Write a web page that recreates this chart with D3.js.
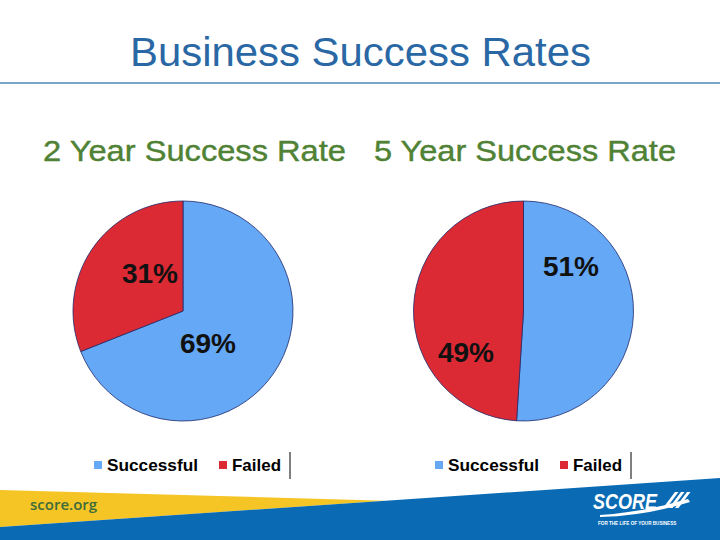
<!DOCTYPE html>
<html><head><meta charset="utf-8">
<script src="https://cdn.jsdelivr.net/npm/d3@7"></script>
<style>body{margin:0;background:#fff}svg{display:block}</style>
</head><body>
<svg id="c" width="720" height="540"></svg>
<script>
const title = "Business Success Rates";
const categories = ["Successful", "Failed"];
const chartTitles = ["2 Year Success Rate", "5 Year Success Rate"];
const twoYearValues = [69, 31];
const fiveYearValues = [51, 49];
const colors = ["#64a8f6", "#dc2a35"];

const svg = d3.select("#c");
const W = 720;
const F = "Liberation Sans, Arial, sans-serif";

// footer
svg.append("path").attr("d","M0,490 L386,500.7 L0,527 Z").attr("fill","#f5c526");
svg.append("path").attr("d","M0,527 L720,478 L720,540 L0,540 Z").attr("fill","#0a6bb4");
svg.append("text").attr("x",30).attr("y",510).text("score.org")
  .attr("font-family","Open Sans, sans-serif").attr("font-weight",600).attr("font-size",15).attr("fill","#3d6b3a");
svg.append("text").attr("x",593).attr("y",509).text("SCORE").attr("textLength",64).attr("lengthAdjust","spacingAndGlyphs")
  .attr("font-family",F).attr("font-weight",700).attr("font-style","italic").attr("font-size",22).attr("fill","#fff");
[0,1,2].forEach(i=>{
  svg.append("path").attr("d",`M${663+i*6},508 L${675+i*6},492 L${678.5+i*6},492 L${666.5+i*6},508 Z`).attr("fill","#fff");
});
svg.append("path").attr("d","M600,515 Q645,512 688,499 L690,502 Q645,516 600,517 Z").attr("fill","#fff");
svg.append("text").attr("x",598).attr("y",525).text("FOR THE LIFE OF YOUR BUSINESS")
  .attr("font-family",F).attr("font-weight",700).attr("font-size",4.6).attr("fill","#fff");

// title
svg.append("text").attr("x",130).attr("y",66).text(title).attr("textLength",461).attr("lengthAdjust","spacingAndGlyphs")
  .attr("font-family",F).attr("font-size",41).attr("fill","#2a68a5");
svg.append("line").attr("x1",0).attr("x2",720).attr("y1",83).attr("y2",83).attr("stroke","#7aa6c6").attr("stroke-width",2);

const pies = [
  {values: twoYearValues, cx: 183, title: chartTitles[0], tx: 43, tw: 303, legX: 94, sepX: 290,
   labelPos: [[208,343],[150,273]]},
  {values: fiveYearValues, cx: 523.5, title: chartTitles[1], tx: 374, tw: 302, legX: 435, sepX: 631,
   labelPos: [[571,266],[466,352]]}
];
const cy = 311, r = 110;
const pie = d3.pie().sort(null).value(d=>d);
const arc = d3.arc().innerRadius(0).outerRadius(r);

pies.forEach(p=>{
  svg.append("text").attr("x",p.tx).attr("y",161).text(p.title).attr("textLength",p.tw).attr("lengthAdjust","spacingAndGlyphs")
    .attr("font-family",F).attr("font-size",29).attr("stroke","#4f8234").attr("stroke-width",0.4).attr("fill","#4f8234");
  const g = svg.append("g").attr("transform",`translate(${p.cx},${cy})`);
  const arcs = pie(p.values);
  g.selectAll("path").data(arcs).join("path").attr("d",arc)
    .attr("fill",(d,i)=>colors[i]).attr("stroke","#1f2a6b").attr("stroke-width",0.8);
  arcs.forEach((a,i)=>{
    svg.append("text").attr("x",p.labelPos[i][0]).attr("y",p.labelPos[i][1]).attr("text-anchor","middle")
      .attr("dominant-baseline","central").text(p.values[i]+"%")
      .attr("font-family",F).attr("font-weight",700).attr("font-size",28).attr("fill","#111");
  });
  const lx = [p.legX, p.legX+125];
  const lw = [91, 49];
  categories.forEach((c,i)=>{
    svg.append("rect").attr("x",lx[i]).attr("y",461).attr("width",8).attr("height",8).attr("fill",colors[i]);
    svg.append("text").attr("x",lx[i]+13).attr("y",471).text(c).attr("textLength",lw[i]).attr("lengthAdjust","spacingAndGlyphs")
      .attr("font-family",F).attr("font-weight",700).attr("font-size",17).attr("fill","#000");
  });
  svg.append("line").attr("x1",p.sepX).attr("x2",p.sepX).attr("y1",452).attr("y2",479).attr("stroke","#000").attr("stroke-width",1);
});
</script>
</body></html>
